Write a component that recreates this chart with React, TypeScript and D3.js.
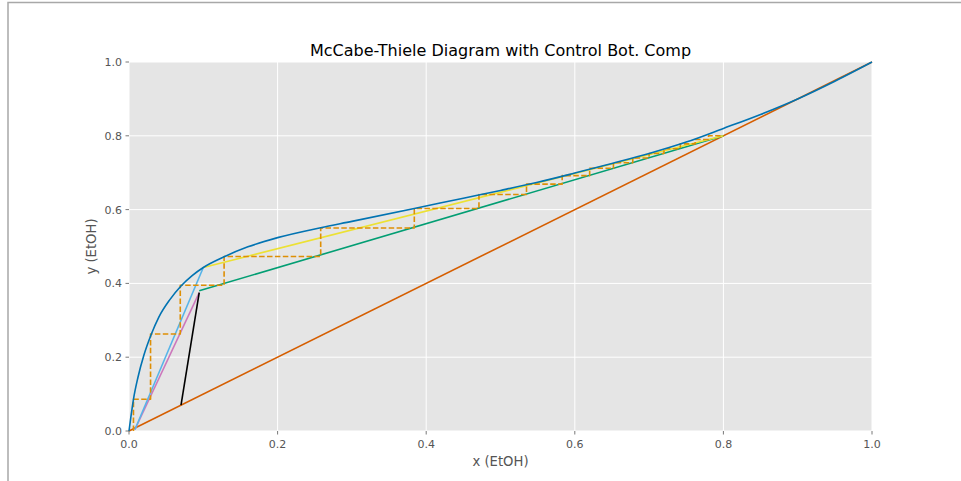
import React from "react";
import * as d3 from "d3";

const eqX = [0, 0.002, 0.006, 0.012, 0.02, 0.03, 0.04, 0.055, 0.07, 0.085, 0.1, 0.128, 0.16, 0.2, 0.258, 0.3, 0.384, 0.45, 0.5, 0.55, 0.6, 0.65, 0.7, 0.75, 0.8, 0.85, 0.9, 0.95, 1.0];
const eqY = [0, 0.03, 0.086, 0.145, 0.205, 0.262, 0.308, 0.356, 0.393, 0.421, 0.443, 0.472, 0.499, 0.524, 0.551, 0.568, 0.603, 0.631, 0.652, 0.674, 0.699, 0.725, 0.752, 0.783, 0.82, 0.858, 0.9, 0.948, 1.0];

const diagX = [0, 1];
const diagY = [0, 1];
const rectX = [0.0945, 0.8];
const rectY = [0.38, 0.8];
const minRefluxX = [0.1, 0.8];
const minRefluxY = [0.443, 0.8];
const stripX = [0.008, 0.0945];
const stripY = [0.004, 0.375];
const minStripX = [0.008, 0.1];
const minStripY = [0.004, 0.443];
const qX = [0.07, 0.0945];
const qY = [0.07, 0.375];

const stairX = [0.006, 0.006, 0.029, 0.029, 0.069, 0.069, 0.128, 0.128, 0.258, 0.258, 0.384, 0.384, 0.471, 0.471, 0.535, 0.535, 0.583, 0.583, 0.62, 0.62, 0.652, 0.652, 0.678, 0.678, 0.7, 0.7, 0.72, 0.72, 0.742, 0.742, 0.762, 0.762, 0.78, 0.78, 0.8];
const stairY = [0.0, 0.086, 0.086, 0.263, 0.263, 0.395, 0.395, 0.473, 0.473, 0.55, 0.55, 0.603, 0.603, 0.641, 0.641, 0.669, 0.669, 0.692, 0.692, 0.712, 0.712, 0.727, 0.727, 0.74, 0.74, 0.752, 0.752, 0.765, 0.765, 0.778, 0.778, 0.79, 0.79, 0.8, 0.8];

const ticks = [0, 0.2, 0.4, 0.6, 0.8, 1.0];
const tickLabels = ["0.0", "0.2", "0.4", "0.6", "0.8", "1.0"];

const W = 961;
const H = 481;
const L = 129, R = 872, T = 62, B = 431;

export default function App() {
  const x = d3.scaleLinear().domain([0, 1]).range([L, R]);
  const y = d3.scaleLinear().domain([0, 1]).range([B, T]);
  const line = (xs: number[], ys: number[]) =>
    d3.line<number>().x((d) => x(xs[d])).y((d) => y(ys[d]))(xs.map((_, i) => i)) || "";
  const curve = (xs: number[], ys: number[]) =>
    d3.line<number>().x((d) => x(xs[d])).y((d) => y(ys[d])).curve(d3.curveMonotoneX)(xs.map((_, i) => i)) || "";
  const font = "DejaVu Sans, sans-serif";
  return (
    <svg width={W} height={H} style={{ position: "absolute", left: 0, top: 0 }} fontFamily={font}>
      <rect x={0} y={0} width={W} height={H} fill="#fff" />
      <rect x={8} y={2.5} width={W + 10} height={H + 10} fill="none" stroke="#a8a8a8" strokeWidth={1.5} />
      <rect x={L} y={T} width={R - L} height={B - T} fill="#E5E5E5" />
      {ticks.map((t, i) => (
        <g key={"g" + i}>
          <line x1={x(t)} x2={x(t)} y1={T} y2={B} stroke="#fff" strokeWidth={1} />
          <line x1={L} x2={R} y1={y(t)} y2={y(t)} stroke="#fff" strokeWidth={1} />
        </g>
      ))}
      <g fill="none" strokeWidth={1.6} strokeLinejoin="round">
        <path d={line(diagX, diagY)} stroke="#d55e00" />
        <path d={line(rectX, rectY)} stroke="#029e73" />
        <path d={line(minRefluxX, minRefluxY)} stroke="#ece133" />
        <path d={line(stripX, stripY)} stroke="#cc78bc" />
        <path d={line(minStripX, minStripY)} stroke="#56b4e9" />
        <path d={line(qX, qY)} stroke="#000" />
        <path d={line(stairX, stairY)} stroke="#de8f05" strokeDasharray="5.5,2.4" />
        <path d={curve(eqX, eqY)} stroke="#0173b2" />
      </g>
      {ticks.map((t, i) => (
        <g key={"t" + i} fill="#555" fontSize={11}>
          <line x1={x(t)} x2={x(t)} y1={B} y2={B + 3.5} stroke="#555" strokeWidth={0.8} />
          <text x={x(t)} y={B + 17} textAnchor="middle">{tickLabels[i]}</text>
          <line x1={L - 3.5} x2={L} y1={y(t)} y2={y(t)} stroke="#555" strokeWidth={0.8} />
          <text x={L - 7} y={y(t) + 4} textAnchor="end">{tickLabels[i]}</text>
        </g>
      ))}
      <text x={(L + R) / 2} y={466} textAnchor="middle" fontSize={13.2} fill="#555">x (EtOH)</text>
      <text transform={`translate(96,${(T + B) / 2}) rotate(-90)`} textAnchor="middle" fontSize={13.2} fill="#555">y (EtOH)</text>
      <text x={(L + R) / 2} y={56} textAnchor="middle" fontSize={16} fill="#000">McCabe-Thiele Diagram with Control Bot. Comp</text>
    </svg>
  );
}
